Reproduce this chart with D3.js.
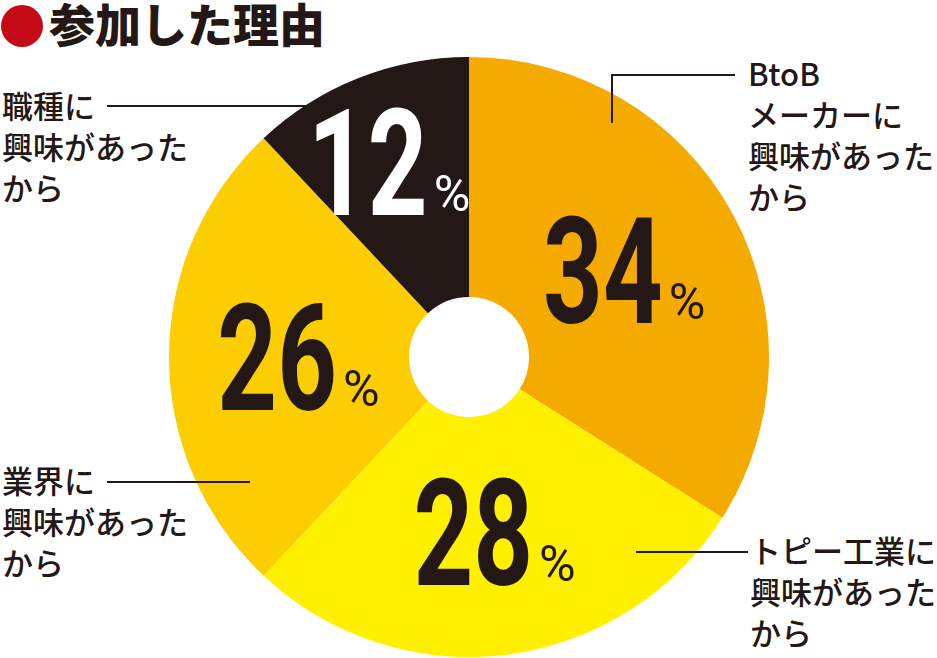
<!DOCTYPE html>
<html>
<head>
<meta charset="utf-8">
<script src="https://cdn.jsdelivr.net/npm/d3@7"></script>
<style>
  body { margin: 0; background: #fff; }
  svg { display: block; }
</style>
</head>
<body>
<div id="container"></div>
<script>
// data
const categories = ["BtoBメーカー", "トピー工業", "業界", "職種"];
const values = [34, 28, 26, 12];
const labelLines = [
  ["BtoB", "メーカーに", "興味があった", "から"],
  ["トピー工業に", "興味があった", "から"],
  ["業界に", "興味があった", "から"],
  ["職種に", "興味があった", "から"]
];
const title = "参加した理由";

// styles / layout
const colors = ["#F5AA00", "#FFF000", "#FCCD00", "#231815"];
const numColors = ["#231815", "#231815", "#231815", "#ffffff"];
const labelRadius = [180, 176, 168, 210];
const labelNudge = [0, 6, 0, 0];
const dark = "#231815";

const width = 937, height = 658;
const cx = 469, cy = 357;
const outerR = 300, innerR = 60;

// label text blocks and leader lines (annotation layout)
const callouts = [
  { x: 748, y: 86,  leader: [[612, 123], [612, 75], [735, 75]] },
  { x: 750, y: 563, leader: [[636, 552], [748, 552]] },
  { x: 2,   y: 493, leader: [[107, 482], [250, 482]] },
  { x: 2,   y: 118, leader: [[107, 106], [320, 106]] }
];

const svg = d3.select("#container")
  .append("svg")
  .attr("width", width)
  .attr("height", height);

// title
svg.append("circle")
  .attr("cx", 22).attr("cy", 26).attr("r", 21)
  .attr("fill", "#C40A14");
svg.append("text")
  .attr("x", 49).attr("y", 42)
  .attr("font-family", "'Noto Sans CJK JP', sans-serif")
  .attr("font-weight", 900)
  .attr("font-size", 46)
  .attr("fill", dark)
  .text(title);

const pie = d3.pie().sort(null).value(d => d.value);
const arcs = pie(categories.map((c, i) => ({ name: c, value: values[i], i })));

const arc = d3.arc().innerRadius(innerR).outerRadius(outerR);

const chart = svg.append("g")
  .attr("transform", `translate(${cx},${cy})`);

chart.selectAll("path.slice")
  .data(arcs)
  .join("path")
  .attr("class", "slice")
  .attr("d", arc)
  .attr("fill", (d, i) => colors[i]);

// percentage labels
const numbers = chart.selectAll("g.num")
  .data(arcs)
  .join("g")
  .attr("class", "num")
  .attr("transform", (d, i) => {
    const c = d3.arc().innerRadius(labelRadius[i]).outerRadius(labelRadius[i]).centroid(d);
    return `translate(${c[0] + labelNudge[i]},${c[1]})`;
  });

numbers.append("g")
  .attr("transform", "translate(36,53) scale(0.7,1)")
  .append("text")
  .attr("text-anchor", "end")
  .attr("font-family", "Roboto, sans-serif")
  .attr("font-weight", 700)
  .attr("font-size", 149)
  .attr("fill", (d, i) => numColors[i])
  .text(d => d.data.value);

numbers.append("text")
  .attr("x", 42)
  .attr("y", 49)
  .attr("font-family", "Roboto, sans-serif")
  .attr("font-weight", 400)
  .attr("font-size", 50)
  .attr("fill", (d, i) => numColors[i])
  .text("%");

// leader lines
const line = d3.line();
svg.selectAll("path.leader")
  .data(callouts)
  .join("path")
  .attr("class", "leader")
  .attr("d", d => line(d.leader))
  .attr("fill", "none")
  .attr("stroke", dark)
  .attr("stroke-width", 2);

// category labels
const labels = svg.selectAll("text.label")
  .data(callouts)
  .join("text")
  .attr("class", "label")
  .attr("font-family", "'Noto Sans CJK JP', sans-serif")
  .attr("font-weight", 500)
  .attr("font-size", 31)
  .attr("fill", dark);

labels.selectAll("tspan")
  .data((d, i) => labelLines[i].map((t, j) => ({ t, j, x: d.x, y: d.y })))
  .join("tspan")
  .attr("x", d => d.x)
  .attr("y", d => d.y + d.j * 41)
  .text(d => d.t);
</script>
</body>
</html>
